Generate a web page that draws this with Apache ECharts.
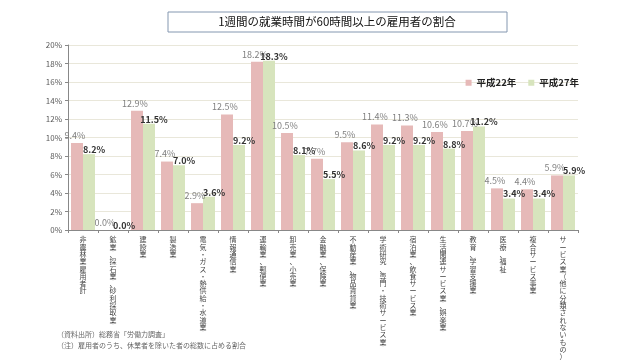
<!DOCTYPE html>
<html><head><meta charset="utf-8">
<script src="https://cdn.jsdelivr.net/npm/echarts@6/dist/echarts.min.js"></script>
<style>html,body{margin:0;padding:0;background:#fff}#c{width:640px;height:362px}</style>
</head><body><div id="c"></div>
<script>
const categories = ["非農林業雇用者計","鉱業、採石業、砂利採取業","建設業","製造業","電気・ガス・熱供給・水道業","情報通信業","運輸業、郵便業","卸売業、小売業","金融業、保険業","不動産業、物品賃貸業","学術研究、専門・技術サービス業","宿泊業、飲食サービス業","生活関連サービス業、娯楽業","教育、学習支援業","医療、福祉","複合サービス事業","サービス業（他に分類されないもの）"];
const seriesNames = ["平成22年","平成27年"];
const h22 = [9.4,0.0,12.9,7.4,2.9,12.5,18.2,10.5,7.7,9.5,11.4,11.3,10.6,10.7,4.5,4.4,5.9];
const h27 = [8.2,0.0,11.5,7.0,3.6,9.2,18.3,8.1,5.5,8.6,9.2,9.2,8.8,11.2,3.4,3.4,5.9];
const yTicks = [0,2,4,6,8,10,12,14,16,18,20];
const titleText = "1週間の就業時間が60時間以上の雇用者の割合";
const notes = ["（資料出所）総務省「労働力調査」","（注）雇用者のうち、休業者を除いた者の総数に占める割合"];

const FONT = '"Noto Sans CJK JP", "Noto Sans", sans-serif';
const chart = echarts.init(document.getElementById('c'), null, {renderer:'canvas'});
chart.setOption({
  animation:false,
  textStyle:{fontFamily:FONT},
  grid:{left:68, right:62, top:45, bottom:132},
  legend:{
    data:seriesNames, right:56, top:73, itemWidth:6, itemHeight:6, itemGap:12,
    icon:'rect',
    textStyle:{fontSize:9.5, fontWeight:'bold', color:'#222', fontFamily:FONT}
  },
  graphic:[
    {type:'rect', shape:{x:168, y:12, width:339, height:20}, style:{fill:'#fff', stroke:'#8497b0', lineWidth:1}},
    {type:'text', x:337, y:22, style:{text:titleText, fontSize:11.5, fill:'#111', textAlign:'center', textVerticalAlign:'middle', fontFamily:FONT}},
    {type:'text', x:57, y:334, style:{text:notes[0], fontSize:7, fill:'#666', textVerticalAlign:'middle', fontFamily:FONT}},
    {type:'text', x:57, y:345, style:{text:notes[1], fontSize:7, fill:'#666', textVerticalAlign:'middle', fontFamily:FONT}}
  ],
  xAxis:{
    type:'category', data:categories,
    axisLine:{lineStyle:{color:'#888'}},
    axisTick:{show:true, length:3, lineStyle:{color:'#888'}},
    axisLabel:{interval:0, fontSize:7, lineHeight:7.3, color:'#444', margin:6, verticalAlign:'top',
      formatter:v=>v.split('').join('\n')}
  },
  yAxis:{
    type:'value', min:0, max:20, interval:2,
    axisLine:{show:true, lineStyle:{color:'#888'}},
    axisTick:{show:true, length:3, lineStyle:{color:'#888'}},
    splitLine:{lineStyle:{color:'#e9e7da'}},
    axisLabel:{fontSize:8, color:'#595959', margin:6, formatter:v=> yTicks.includes(v) ? v+'%' : ''}
  },
  series:[
    {name:seriesNames[0], type:'bar', data:h22, barGap:'0%', barCategoryGap:'20%',
      itemStyle:{color:'#e6b9b8'},
      label:{show:true, position:'top', distance:3, offset:[-2,0], fontSize:9, color:'#808080', formatter:p=>p.value.toFixed(1)+'%'}},
    {name:seriesNames[1], type:'bar', data:h27,
      itemStyle:{color:'#d7e4bd'},
      label:{show:true, position:'top', distance:0, offset:[5,0], fontSize:9, fontWeight:'bold', color:'#333', formatter:p=>p.value.toFixed(1)+'%'}}
  ]
});
</script></body></html>
